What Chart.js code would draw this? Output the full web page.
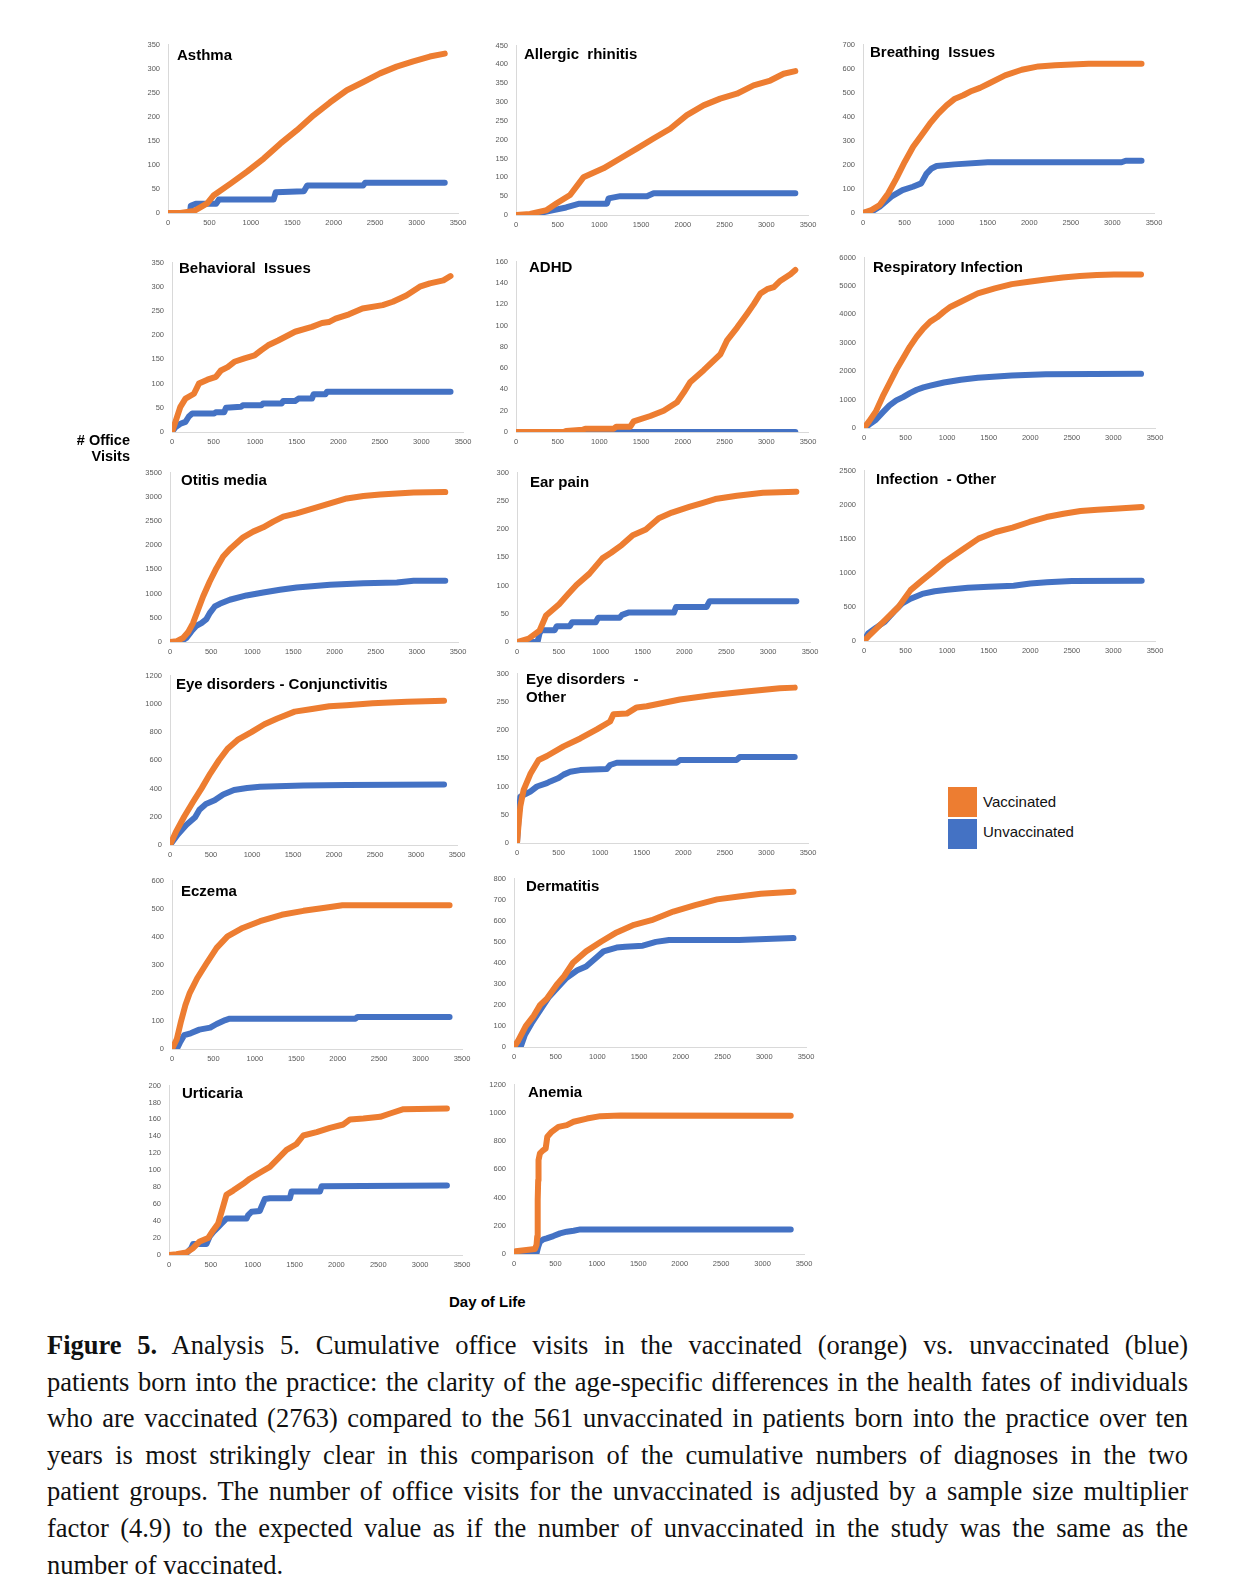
<!DOCTYPE html>
<html><head><meta charset="utf-8">
<script src="https://cdn.jsdelivr.net/npm/chart.js@4.4.1/dist/chart.umd.min.js"></script>
<style>
body{margin:0;background:#fff;}
#page{position:relative;width:1240px;height:1596px;overflow:hidden;font-family:"Liberation Sans",Arial,sans-serif;background:#fff;}
canvas{position:absolute;}
.t{position:absolute;font-weight:bold;font-size:15px;line-height:15px;color:#000;white-space:pre;}
.lab{position:absolute;font-weight:bold;color:#000;white-space:pre;}
.box{position:absolute;width:29px;height:30px;}
.leg{position:absolute;font-size:15px;line-height:16px;color:#111;}
#cap{position:absolute;left:47px;top:1327px;width:1141px;font-family:"Liberation Serif","Times New Roman",serif;font-size:26.5px;line-height:36.6px;color:#111;}
#cap div{text-align:justify;text-align-last:justify;white-space:nowrap;}
#cap div.last{text-align-last:left;}
</style></head><body><div id="page"></div>
<script>
// ---------- DATA (day of life, cumulative office visits) ----------
const xTicks = [0,500,1000,1500,2000,2500,3000,3500];

const asthmaVaxDay = [0,150,313,473,553,754,954,1155,1355,1556,1757,1957,2158,2358,2559,2759,2960,3160,3340];
const asthmaVaxVal = [0,0,4,20,37,61,86,113,144,172,203,230,255,272,290,304,315,325,331];
const asthmaUnvDay = [0,265,275,335,580,615,1275,1300,1640,1680,2355,2380,3340];
const asthmaUnvVal = [0,0,15,19,19,28,28,43,45,57,57,63,63];

const rhinitisVaxDay = [0,168,368,488,648,808,1048,1248,1448,1648,1848,2048,2248,2448,2648,2848,3048,3208,3348];
const rhinitisVaxVal = [0,3,13,31,53,100,124,150,176,203,229,265,291,309,322,344,357,375,382];
const rhinitisUnvDay = [0,170,300,450,600,760,1090,1110,1250,1570,1650,3348];
const rhinitisUnvVal = [0,0,6,13,20,30,30,44,50,50,58,58];

const breathVaxDay = [0,101,201,302,402,503,603,704,804,905,1005,1106,1206,1307,1407,1508,1709,1910,2111,2312,2513,2714,2915,3350];
const breathVaxVal = [0,12,33,81,144,213,275,323,371,413,447,475,489,507,520,537,572,595,609,614,617,620,620,620];
const breathUnvDay = [0,100,200,340,475,600,700,765,825,885,1100,1500,3110,3160,3350];
const breathUnvVal = [0,5,26,68,95,109,123,164,185,195,202,211,211,217,217];

const behavVaxDay = [0,41,101,162,264,324,426,527,588,669,750,872,993,1075,1156,1277,1480,1683,1804,1886,1967,2129,2291,2534,2656,2818,2980,3102,3264,3350];
const behavVaxVal = [0,21,52,69,79,100,108,114,127,134,145,152,158,169,179,189,207,217,225,227,234,243,255,262,269,282,300,307,313,322];
const behavUnvDay = [0,41,101,162,203,243,507,527,628,649,831,852,1075,1095,1318,1338,1480,1521,1683,1703,1845,1865,3350];
const behavUnvVal = [0,10,17,21,32,38,38,41,41,50,52,55,55,59,59,64,64,69,69,78,78,83,83];

const adhdVaxDay = [0,570,600,800,830,1170,1200,1370,1410,1610,1770,1930,2010,2090,2250,2450,2530,2650,2770,2850,2930,3010,3090,3170,3290,3348];
const adhdVaxVal = [0,0,1,2,3,3,5,5,10,15,20,28,37,47,58,73,86,98,111,120,130,134,136,142,148,152];
const adhdUnvDay = [0,1500,3348];
const adhdUnvVal = [0,0,0];

const respVaxDay = [0,61,143,225,307,388,470,552,634,715,797,879,961,1042,1165,1369,1574,1778,1983,2187,2391,2596,2800,3005,3332];
const respVaxVal = [0,234,585,1111,1579,2047,2456,2865,3216,3509,3743,3895,4094,4269,4444,4737,4912,5064,5146,5228,5298,5345,5380,5404,5404];
const respUnvDay = [0,61,143,225,307,388,470,552,634,715,797,961,1165,1369,1778,2187,3332];
const respUnvVal = [0,117,292,550,795,971,1088,1228,1345,1430,1490,1602,1700,1770,1850,1890,1905];

const otitisVaxDay = [0,77,158,219,280,341,402,483,564,646,727,808,889,1011,1133,1255,1376,1539,1742,1945,2148,2351,2554,2757,2960,3345];
const otitisVaxVal = [0,14,82,199,391,666,940,1249,1524,1764,1915,2038,2162,2279,2368,2485,2588,2656,2759,2862,2965,3013,3047,3068,3089,3095];
const otitisUnvDay = [0,118,199,260,321,382,443,483,544,605,727,930,1133,1336,1539,1945,2351,2757,2960,3345];
const otitisUnvVal = [0,0,82,220,336,391,474,597,734,789,872,961,1023,1078,1126,1181,1215,1229,1263,1263];

const earVaxDay = [0,140,269,347,503,606,710,865,1020,1124,1254,1383,1539,1694,1850,2057,2212,2368,2627,2938,3337];
const earVaxVal = [0,6,20,47,67,84,101,121,148,158,172,189,199,219,229,239,246,253,259,264,266];
const earUnvDay = [0,245,270,295,450,475,630,660,940,970,1225,1255,1330,1875,1900,2265,2300,3337];
const earUnvVal = [0,0,16,21,21,28,28,35,35,43,43,48,52,52,62,62,72,72];

const infVaxDay = [0,49,151,253,356,417,560,703,826,969,1173,1378,1582,1786,1991,2195,2400,2604,2808,3013,3340];
const infVaxVal = [0,63,185,307,429,502,746,892,1014,1160,1330,1501,1598,1662,1745,1818,1866,1905,1925,1940,1964];
const infUnvDay = [0,50,150,250,360,460,560,620,700,850,1000,1250,1500,1800,2000,2200,2500,3340];
const infUnvVal = [0,110,200,283,429,551,620,650,690,730,750,780,795,810,843,860,880,885];

const conjVaxDay = [0,69,174,280,385,491,597,702,834,993,1151,1309,1521,1732,1943,2154,2471,2893,3342];
const conjVaxVal = [0,89,202,304,401,506,600,681,748,799,855,896,944,963,982,990,1003,1014,1022];
const conjUnvDay = [0,95,201,306,359,438,544,649,781,940,1098,1626,2154,3342];
const conjUnvVal = [0,75,143,196,250,291,317,358,390,404,412,422,425,428];

const eyeVaxDay = [0,20,40,80,160,260,360,560,760,960,1120,1160,1320,1440,1560,1960,2360,2760,3160,3340];
const eyeVaxVal = [0,35,65,94,122,147,154,171,185,201,215,228,229,240,242,254,262,268,274,275];
const eyeUnvDay = [0,20,40,120,160,240,360,400,500,560,640,760,1080,1120,1200,1920,1960,2640,2680,3340];
const eyeUnvVal = [0,47,82,88,91,100,106,109,115,121,126,129,131,138,142,142,147,147,152,152];

const eczemaVaxDay = [0,58,110,162,215,304,408,539,670,853,1063,1324,1586,1848,2057,3350];
const eczemaVaxVal = [0,35,100,157,200,252,301,360,401,431,455,478,492,503,512,512];
const eczemaUnvDay = [0,58,94,147,225,330,461,539,644,696,2214,2240,3350];
const eczemaUnvVal = [0,0,22,49,56,69,76,89,103,108,108,114,114];

const dermVaxDay = [0,52,141,236,314,393,523,602,707,864,1047,1230,1439,1649,1910,2172,2434,2696,2957,3350];
const dermVaxVal = [0,31,99,148,200,229,301,337,400,454,501,544,580,602,643,674,701,715,728,737];
const dermUnvDay = [0,79,131,209,314,419,523,628,759,864,968,1073,1230,1335,1544,1701,1858,2696,3350];
const dermUnvVal = [0,0,58,112,175,238,283,328,364,382,418,454,472,476,481,499,508,508,517];

const urtVaxDay = [0,88,207,287,367,467,527,587,646,686,766,886,966,1085,1205,1305,1404,1524,1604,1764,1923,2083,2163,2322,2522,2641,2801,3320];
const urtVaxVal = [0,1,3,8,16,20,29,37,57,71,76,84,90,97,104,114,124,131,141,145,150,154,160,161,163,167,172,173];
const urtUnvDay = [0,188,227,267,287,447,487,527,587,626,686,926,946,986,1085,1105,1145,1205,1444,1464,1803,1823,3320];
const urtUnvVal = [0,0,4,8,13,13,22,27,33,37,43,43,47,51,52,57,66,67,67,75,75,81,82];

const anemiaVaxDay = [0,20,150,252,272,280,284,288,292,296,313,353,382,402,455,536,637,719,881,1043,1287,3340];
const anemiaVaxVal = [0,19,28,35,64,123,240,382,523,665,712,735,747,830,865,900,912,936,959,976,981,978];
const anemiaUnvDay = [0,272,292,313,353,394,475,556,637,719,800,3340];
const anemiaUnvVal = [0,5,52,87,104,111,127,146,158,165,174,174];

// ---------- LAYOUT / STYLE ----------
const ORANGE = '#ED7D31', BLUE = '#4472C4';
const panels = [
 {title:'Asthma', vd:asthmaVaxDay, vv:asthmaVaxVal, ud:asthmaUnvDay, uv:asthmaUnvVal, max:350, step:50, x0:168,x1:458,yt:44,yb:213, tx:177,ty:54},
 {title:'Allergic  rhinitis', vd:rhinitisVaxDay, vv:rhinitisVaxVal, ud:rhinitisUnvDay, uv:rhinitisUnvVal, max:450, step:50, x0:516,x1:808,yt:45,yb:215, tx:524,ty:53},
 {title:'Breathing  Issues', vd:breathVaxDay, vv:breathVaxVal, ud:breathUnvDay, uv:breathUnvVal, max:700, step:100, x0:863,x1:1154,yt:44,yb:213, tx:870,ty:51},
 {title:'Behavioral  Issues', vd:behavVaxDay, vv:behavVaxVal, ud:behavUnvDay, uv:behavUnvVal, max:350, step:50, x0:172,x1:463,yt:262,yb:432, tx:179,ty:267},
 {title:'ADHD', vd:adhdVaxDay, vv:adhdVaxVal, ud:adhdUnvDay, uv:adhdUnvVal, max:160, step:20, x0:516,x1:808,yt:261,yb:432, tx:529,ty:266},
 {title:'Respiratory Infection', vd:respVaxDay, vv:respVaxVal, ud:respUnvDay, uv:respUnvVal, max:6000, step:1000, x0:864,x1:1155,yt:257,yb:428, tx:873,ty:266},
 {title:'Otitis media', vd:otitisVaxDay, vv:otitisVaxVal, ud:otitisUnvDay, uv:otitisUnvVal, max:3500, step:500, x0:170,x1:458,yt:472,yb:642, tx:181,ty:479},
 {title:'Ear pain', vd:earVaxDay, vv:earVaxVal, ud:earUnvDay, uv:earUnvVal, max:300, step:50, x0:517,x1:810,yt:472,yb:642, tx:530,ty:481},
 {title:'Infection  - Other', vd:infVaxDay, vv:infVaxVal, ud:infUnvDay, uv:infUnvVal, max:2500, step:500, x0:864,x1:1155,yt:470,yb:641, tx:876,ty:478},
 {title:'Eye disorders - Conjunctivitis', vd:conjVaxDay, vv:conjVaxVal, ud:conjUnvDay, uv:conjUnvVal, max:1200, step:200, x0:170,x1:457,yt:675,yb:845, tx:176,ty:683},
 {title:'Eye disorders  -\nOther', vd:eyeVaxDay, vv:eyeVaxVal, ud:eyeUnvDay, uv:eyeUnvVal, max:300, step:50, x0:517,x1:808,yt:673,yb:843, tx:526,ty:679, lh:18},
 {title:'Eczema', vd:eczemaVaxDay, vv:eczemaVaxVal, ud:eczemaUnvDay, uv:eczemaUnvVal, max:600, step:100, x0:172,x1:462,yt:880,yb:1049, tx:181,ty:890},
 {title:'Dermatitis', vd:dermVaxDay, vv:dermVaxVal, ud:dermUnvDay, uv:dermUnvVal, max:800, step:100, x0:514,x1:806,yt:878,yb:1047, tx:526,ty:885},
 {title:'Urticaria', vd:urtVaxDay, vv:urtVaxVal, ud:urtUnvDay, uv:urtUnvVal, max:200, step:20, x0:169,x1:462,yt:1085,yb:1255, tx:182,ty:1092},
 {title:'Anemia', vd:anemiaVaxDay, vv:anemiaVaxVal, ud:anemiaUnvDay, uv:anemiaUnvVal, max:1200, step:200, x0:514,x1:804,yt:1084,yb:1254, tx:528,ty:1091}
];

const page = document.getElementById('page');
const LPAD = 45, TPAD = 12, RPAD = 16, XH = 22;
const tickFont = {family:'"Liberation Sans", Arial, sans-serif', size:7.5};
const TICKCOL = '#595959', AXCOL = '#d9d9d9';

function el(cls, txt, css){
  const d = document.createElement('div');
  d.className = cls; d.textContent = txt;
  Object.assign(d.style, css); page.appendChild(d); return d;
}

panels.forEach(p => {
  const c = document.createElement('canvas');
  const w = (p.x1 - p.x0) + LPAD + RPAD, h = (p.yb - p.yt) + TPAD + XH;
  c.width = w; c.height = h;
  Object.assign(c.style, {left:(p.x0-LPAD)+'px', top:(p.yt-TPAD)+'px', width:w+'px', height:h+'px'});
  page.appendChild(c);
  new Chart(c, {
    type:'line',
    data:{datasets:[
      {label:'Vaccinated', data:p.vd.map((d,i)=>({x:d,y:p.vv[i]})), borderColor:ORANGE, backgroundColor:ORANGE},
      {label:'Unvaccinated', data:p.ud.map((d,i)=>({x:d,y:p.uv[i]})), borderColor:BLUE, backgroundColor:BLUE}
    ]},
    options:{
      responsive:false, animation:false,
      layout:{padding:{left:0, top:TPAD, right:RPAD, bottom:0}},
      plugins:{legend:{display:false}, tooltip:{enabled:false}},
      elements:{point:{radius:0, hoverRadius:0}, line:{tension:0, borderWidth:6, borderCapStyle:'round', borderJoinStyle:'round', fill:false}},
      scales:{
        x:{type:'linear', min:0, max:3500, afterFit:s=>{s.height = XH;},
           grid:{display:false, drawTicks:false}, border:{display:true, color:AXCOL, width:1},
           afterBuildTicks:s=>{s.ticks = xTicks.map(v=>({value:v}));},
           ticks:{autoSkip:false, maxRotation:0, padding:5, font:tickFont, color:TICKCOL, callback:v=>String(v)}},
        y:{type:'linear', min:0, max:p.max, afterFit:s=>{s.width = LPAD;},
           grid:{display:false, drawTicks:false}, border:{display:true, color:AXCOL, width:1},
           ticks:{stepSize:p.step, autoSkip:false, padding:8, font:tickFont, color:TICKCOL, callback:v=>String(v)}}
      }
    }
  });
  const lh = p.lh || 15;
  el('t', p.title, {left:p.tx+'px', top:(p.ty - 7.3 - (lh-15)/2)+'px', lineHeight:lh+'px'});
});

// axis labels
el('lab', '# Office\nVisits', {right:(1240-130)+'px', top:'432px', fontSize:'14.5px', lineHeight:'16px', textAlign:'right'});
el('lab', 'Day of Life', {left:'449px', top:'1294px', fontSize:'15px', lineHeight:'16px'});

// legend
el('box', '', {left:'948px', top:'787px', background:ORANGE});
el('box', '', {left:'948px', top:'819px', background:BLUE});
el('leg', 'Vaccinated', {left:'983px', top:'794px'});
el('leg', 'Unvaccinated', {left:'983px', top:'824px'});

// caption
const capLines = [
 ['Figure 5.', '  Analysis 5.  Cumulative office visits in the vaccinated (orange) vs.  unvaccinated (blue)'],
 ['', 'patients born into the practice: the clarity of the age-specific differences in the health fates of individuals'],
 ['', 'who are vaccinated (2763) compared to the 561 unvaccinated in patients born into the practice over ten'],
 ['', 'years is most strikingly clear in this comparison of the cumulative numbers of diagnoses in the two'],
 ['', 'patient groups. The number of office visits for the unvaccinated is adjusted by a sample size multiplier'],
 ['', 'factor (4.9) to the expected value as if the number of unvaccinated in the study was the same as the'],
 ['', 'number of vaccinated.']
];
const cap = document.createElement('div'); cap.id = 'cap'; page.appendChild(cap);
capLines.forEach((l, i) => {
  const d = document.createElement('div');
  if (i === capLines.length - 1) d.className = 'last';
  if (l[0]) { const b = document.createElement('b'); b.textContent = l[0]; d.appendChild(b); }
  d.appendChild(document.createTextNode(l[1]));
  cap.appendChild(d);
});
</script>
</body></html>
